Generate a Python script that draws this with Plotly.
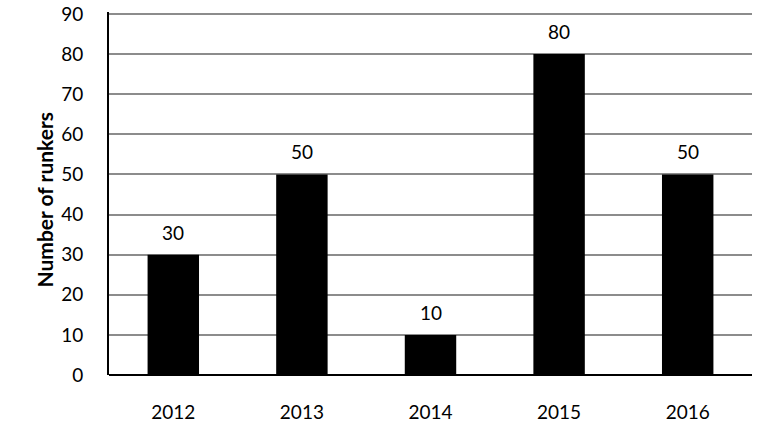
import plotly.graph_objects as go

# data
years = ["2012", "2013", "2014", "2015", "2016"]
rankers = [30, 50, 10, 80, 50]
y_ticks = [0, 10, 20, 30, 40, 50, 60, 70, 80, 90]
y_title = "Number of runkers"

font_family = "Lato, Open Sans, sans-serif"

fig = go.Figure(go.Bar(
    x=years,
    y=rankers,
    marker=dict(color="black", line=dict(width=0)),
))

# value labels a little above each bar (x given as category index)
for i, val in enumerate(rankers):
    fig.add_annotation(
        x=i, y=val, xref="x", yref="y", text=str(val),
        showarrow=False, yanchor="bottom", yshift=9,
        font=dict(family=font_family, size=19, color="black"),
    )

# y axis title as a rotated annotation so it can be placed exactly
fig.add_annotation(
    x=0, y=0.5, xref="paper", yref="paper",
    text="<b>" + y_title + "</b>", textangle=-90,
    showarrow=False, xanchor="center", yanchor="middle",
    xshift=-65, yshift=-6,
    font=dict(family=font_family, size=21, color="black"),
)

fig.update_layout(
    width=766, height=439,
    margin=dict(l=109, r=14, t=12, b=64),
    paper_bgcolor="white",
    plot_bgcolor="white",
    bargap=0.6,
    showlegend=False,
    font=dict(family=font_family, size=19, color="black"),
    xaxis=dict(
        type="category",
        automargin=False,
        showgrid=False,
        showline=False,
        ticks="outside",
        ticklen=20,
        tickcolor="white",
        tickfont=dict(size=19),
    ),
    yaxis=dict(
        range=[0, 90.5],  # a touch of headroom so the 90 gridline is drawn
        automargin=False,
        tickvals=y_ticks,
        ticklabeloverflow="allow",
        showgrid=True,
        gridcolor="#8c8c8c",
        gridwidth=1.5,
        showline=True,
        linecolor="black",
        linewidth=2,
        zeroline=True,
        zerolinecolor="black",
        zerolinewidth=2,
        ticks="outside",
        ticklen=20,
        tickcolor="white",
        tickfont=dict(size=19),
    ),
)

# drop the default 8px page margin so the figure fills the window
fig.write_html(
    "out.html",
    config={"displayModeBar": False},
    post_script="document.body.style.margin = '0px';",
)
